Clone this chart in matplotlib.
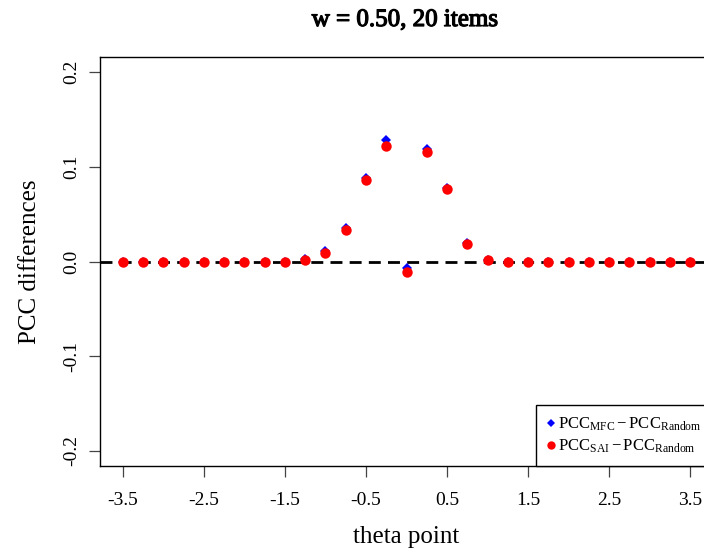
import numpy as np
import matplotlib
matplotlib.use("Agg")
import matplotlib.pyplot as plt
import matplotlib.patheffects as pe
from matplotlib.lines import Line2D

plt.rcParams["font.family"] = ["Liberation Serif", "DejaVu Serif"]
plt.rcParams["mathtext.fontset"] = "custom"
plt.rcParams["mathtext.rm"] = "Liberation Serif"
plt.rcParams["mathtext.it"] = "Liberation Serif:italic"

# theta points -3.5 .. 3.5 by 0.25
theta = [-3.5, -3.25, -3.0, -2.75, -2.5, -2.25, -2.0, -1.75, -1.5, -1.25,
         -1.0, -0.75, -0.5, -0.25, 0.0, 0.25, 0.5, 0.75, 1.0, 1.25,
         1.5, 1.75, 2.0, 2.25, 2.5, 2.75, 3.0, 3.25, 3.5]

diff_mfc = [0.0, 0.0, 0.0, 0.0, 0.0, 0.0, 0.0, 0.0, 0.0, 0.003,
            0.011, 0.035, 0.088, 0.128, -0.007, 0.119, 0.078, 0.020, 0.002, 0.0,
            0.0, 0.0, 0.0, 0.0, 0.0, 0.0, 0.0, 0.0, 0.0]
diff_sai = [0.0, 0.0, 0.0, 0.0, 0.0, 0.0, 0.0, 0.0, 0.0, 0.002,
            0.009, 0.033, 0.086, 0.122, -0.011, 0.116, 0.077, 0.019, 0.002, 0.0,
            0.0, 0.0, 0.0, 0.0, 0.0, 0.0, 0.0, 0.0, 0.0]

xticks = [-3.5, -2.5, -1.5, -0.5, 0.5, 1.5, 2.5, 3.5]
yticks = [-0.2, -0.1, 0.0, 0.1, 0.2]

W, H = 704, 550
fig = plt.figure(figsize=(W / 100, H / 100), dpi=100)
# plot region runs past the right edge, as in the reference
ax = fig.add_axes([100 / W, 1 - 466 / H, 613 / W, 409 / H])

ax.axhline(0, color="black", lw=2, dashes=(4.3, 2.6), zorder=1)
ax.plot(theta, diff_mfc, "D", color="blue", ms=5, mew=0, zorder=2)
ax.plot(theta, diff_sai, "o", color="red", ms=7.5, mew=0, zorder=3)

ax.set_xlim(-3.78, 3.78)
ax.set_ylim(-0.216, 0.216)
ax.set_xticks(xticks)
ax.set_xticklabels([f"{t:.1f}" for t in xticks])
ax.set_yticks(yticks)
ax.set_yticklabels([f"{t:.1f}" for t in yticks])
ax.tick_params(axis="both", length=8, width=0.9, labelsize=14, color="#444444")
ax.tick_params(axis="x", pad=11)
ax.tick_params(axis="y", pad=6)
for lbl in ax.get_yticklabels():
    lbl.set_rotation(90)
    lbl.set_va("center")
for sp in ax.spines.values():
    sp.set_linewidth(1.0)

handles = [
    Line2D([], [], marker="D", color="blue", ls="none", ms=4.5, mew=0),
    Line2D([], [], marker="o", color="red", ls="none", ms=6, mew=0),
]
labels = [
    r"$\mathrm{PCC}_{\mathrm{MFC}} - \mathrm{PCC}_{\mathrm{Random}}$",
    r"$\mathrm{PCC}_{\mathrm{SAI}} - \mathrm{PCC}_{\mathrm{Random}}$",
]
leg = ax.legend(handles, labels, loc="upper left",
                bbox_to_anchor=(536 / W, 1 - 405 / H),
                bbox_transform=fig.transFigure,
                borderaxespad=0, fontsize=12, handlelength=0.5,
                handletextpad=0.15, labelspacing=0.25, borderpad=0.65,
                fancybox=False, edgecolor="black", framealpha=1)
leg.get_frame().set_linewidth(1.0)

fig.text(405 / W, 1 - 20 / H, "w = 0.50, 20 items", ha="center", va="center",
         fontsize=18,
         path_effects=[pe.withStroke(linewidth=0.9, foreground="black")])
fig.text(406 / W, 1 - 537 / H, "theta point", ha="center", va="center",
         fontsize=18)
fig.text(30 / W, 1 - 262 / H, "PCC differences", ha="center", va="center",
         fontsize=18, rotation=90)

fig.savefig("out.png", dpi=100)
